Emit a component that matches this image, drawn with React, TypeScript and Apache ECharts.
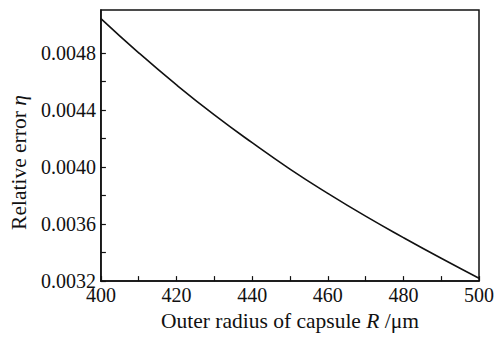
import React, { useEffect, useRef } from "react";
import * as echarts from "echarts";

const radius = [400, 410, 420, 430, 440, 450, 460, 470, 480, 490, 500];
const relError = [0.00504, 0.0048, 0.004575, 0.004365, 0.00417, 0.003985, 0.003815, 0.003655, 0.003505, 0.00336, 0.00322];
const xLabelValues = [400, 420, 440, 460, 480, 500];
const xTickValues = [400, 410, 420, 430, 440, 450, 460, 470, 480, 490, 500];
const yLabelValues = [0.0032, 0.0036, 0.004, 0.0044, 0.0048];
const yTickValues = [0.0032, 0.0034, 0.0036, 0.0038, 0.004, 0.0042, 0.0044, 0.0046, 0.0048];

const FONT = "Liberation Serif";
const FS = 20;
const NFS = 21.5;

export default function App() {
  const ref = useRef<HTMLDivElement>(null);
  useEffect(() => {
    document.body.style.margin = "0";
    if (!ref.current) return;
    const chart = echarts.init(ref.current, undefined, { renderer: "svg" });
    chart.setOption({
      animation: false,
      backgroundColor: "#fff",
      grid: {
        left: 98,
        top: 10,
        right: 18,
        bottom: 46.5,
        show: true,
        borderColor: "#111",
        borderWidth: 1.5,
      },
      xAxis: {
        type: "value",
        min: 400,
        max: 500,
        name: "{n|Outer radius of capsule }{i|R}{n| /\u03bcm}",
        nameLocation: "middle",
        nameGap: 27,
        nameTextStyle: {
          rich: {
            n: { fontFamily: FONT, fontSize: NFS, color: "#111" },
            i: { fontFamily: FONT, fontSize: NFS, fontStyle: "italic", color: "#111" },
          },
        },
        axisLine: { show: true, lineStyle: { color: "#111", width: 1.5 } },
        axisTick: {
          show: true,
          inside: true,
          length: 5,
          customValues: xTickValues,
          lineStyle: { color: "#111", width: 1.2 },
        },
        axisLabel: {
          customValues: xLabelValues,
          fontFamily: FONT,
          fontSize: FS,
          color: "#111",
          margin: 4,
        },
        splitLine: { show: false },
      },
      yAxis: {
        type: "value",
        min: 0.0032,
        max: 0.0051,
        name: "{n|Relative error }{i|\u03b7}",
        nameLocation: "middle",
        nameGap: 70,
        nameRotate: 90,
        nameTextStyle: {
          padding: [0, 34, 0, 0],
          rich: {
            n: { fontFamily: FONT, fontSize: NFS, color: "#111" },
            i: { fontFamily: FONT, fontSize: NFS, fontStyle: "italic", color: "#111" },
          },
        },
        axisLine: { show: true, lineStyle: { color: "#111", width: 1.5 } },
        axisTick: {
          show: true,
          inside: true,
          length: 5,
          customValues: yTickValues,
          lineStyle: { color: "#111", width: 1.2 },
        },
        axisLabel: {
          customValues: yLabelValues,
          formatter: (v: number) => v.toFixed(4),
          fontFamily: FONT,
          fontSize: FS,
          color: "#111",
          margin: 5,
        },
        splitLine: { show: false },
      },
      series: [
        {
          type: "line",
          data: radius.map((r, i) => [r, relError[i]]),
          smooth: true,
          showSymbol: false,
          lineStyle: { color: "#111", width: 1.6 },
        },
      ],
    });
    return () => chart.dispose();
  }, []);
  return <div ref={ref} style={{ width: 497, height: 337 }} />;
}
